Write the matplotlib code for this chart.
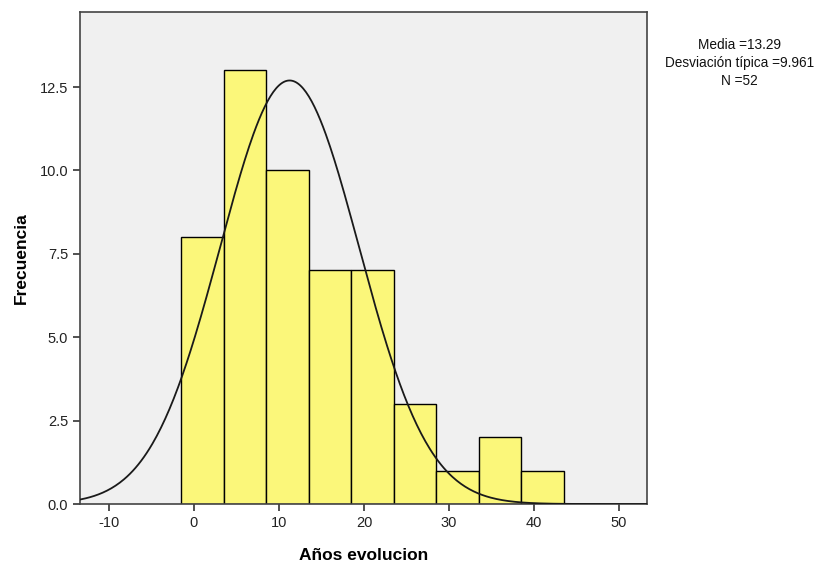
import numpy as np
import matplotlib.pyplot as plt

plt.rcParams['font.family'] = ['Liberation Sans', 'DejaVu Sans']

# histogram bins (left edges, width 5) and counts
bin_edges = [-1.5, 3.5, 8.5, 13.5, 18.5, 23.5, 28.5, 33.5, 38.5, 43.5]
counts = [8, 13, 10, 7, 7, 3, 1, 2, 1]

# normal curve as drawn (centre, spread), scaled to N * bin width
curve_mean = 11.25
curve_sd = 8.17
n_total = 52
bin_width = 5

stats_lines = ['Media =13.29', 'Desviación típica =9.961', 'N =52']
x_ticks = [-10, 0, 10, 20, 30, 40, 50]
y_ticks = [0.0, 2.5, 5.0, 7.5, 10.0, 12.5]

fig = plt.figure(figsize=(8.35, 5.69), dpi=100)
ax = fig.add_axes([0.0958, 0.1142, 0.775 - 0.0958, 0.979 - 0.1142])
ax.set_facecolor('#f0f0f0')

lefts = bin_edges[:-1]
widths = np.diff(bin_edges)
ax.bar(lefts, counts, width=widths, align='edge', color='#fbf77a',
       edgecolor='black', linewidth=1.0, zorder=2)

xs = np.linspace(-13.4, 53.3, 400)
ys = n_total * bin_width / (curve_sd * np.sqrt(2 * np.pi)) * \
    np.exp(-0.5 * ((xs - curve_mean) / curve_sd) ** 2)
ax.plot(xs, ys, color='#1a1a1a', linewidth=1.3, zorder=3)

ax.set_xlim(-13.4, 53.3)
ax.set_ylim(0, 14.75)
ax.set_xticks(x_ticks)
ax.set_xticklabels([str(t) for t in x_ticks])
ax.set_yticks(y_ticks)
ax.set_yticklabels([f'{t:.1f}' for t in y_ticks])
ax.tick_params(direction='out', length=5, width=1.2, colors='#333333',
               labelsize=10.5, labelcolor='#222222')
for s in ax.spines.values():
    s.set_color('#444444')
    s.set_linewidth(1.2)

ax.set_xlabel('Años evolucion', fontsize=12.5, fontweight='bold', labelpad=13)
ax.set_ylabel('Frecuencia', fontsize=12.5, fontweight='bold', labelpad=8)

fig.text(0.886, 0.889, '\n'.join(stats_lines), ha='center', va='center',
         fontsize=9.8, linespacing=1.35, color='#111111')

fig.savefig('out.png', dpi=100, facecolor='white')
